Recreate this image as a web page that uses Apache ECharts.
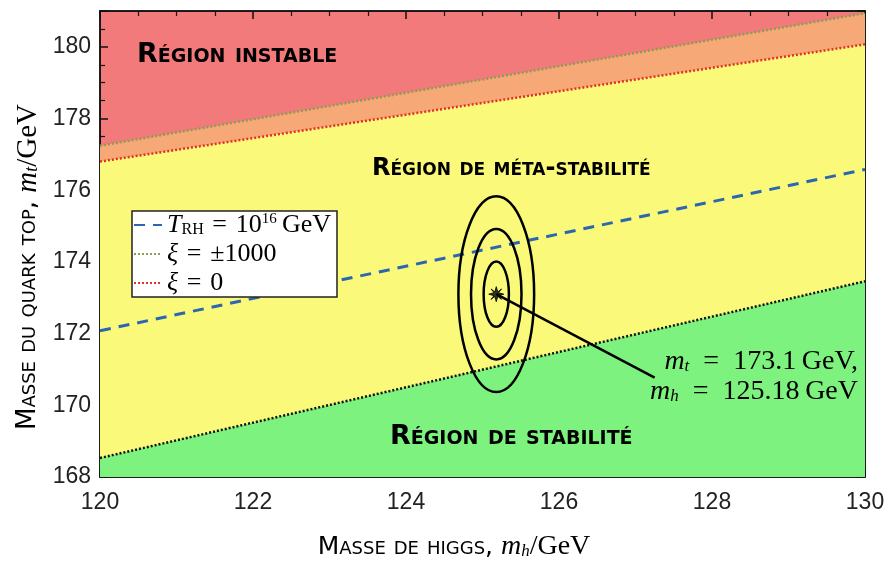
<!DOCTYPE html>
<html>
<head>
<meta charset="utf-8">
<script src="https://cdn.jsdelivr.net/npm/echarts@6/dist/echarts.min.js"></script>
<style>
html, body { margin: 0; padding: 0; background: #fff; }
#chart { width: 889px; height: 566px; }
</style>
</head>
<body>
<div id="chart"></div>
<script>
// axis ranges (GeV)
var higgsRange = [120, 130];
var topRange = [168, 181];
// boundary lines, value of m_t at m_h = 120 and m_h = 130
var stabilityBound = [168.53, 173.46];
var xiZeroBound = [176.8, 180.07];
var xiThousandBound = [177.24, 180.94];
var reheatLine = [172.08, 176.58];
// best fit point and 1/2/3 sigma half widths
var bestFit = [125.18, 173.1];
var sigmaHiggs = [0.165, 0.33, 0.495];
var sigmaTop = [0.91, 1.82, 2.73];
var pointerEnd = [127.25, 170.77];

var myChart = echarts.init(document.getElementById('chart'));

function ends(vals) {
    return [[higgsRange[0], vals[0]], [higgsRange[1], vals[1]]];
}

var serif = '"Liberation Serif", "DejaVu Serif", serif';
var sans = '"Liberation Sans", Arial, sans-serif';
var caps = '"DejaVu Sans", sans-serif';
var eq = '\u2002=\u2002';
var eqNarrow = '\u2004=\u2004';

function mathRich(size, capSize) {
    return {
        r: { fontFamily: serif, fontSize: size, color: '#000', lineHeight: 28 },
        i: { fontFamily: serif, fontStyle: 'italic', fontSize: size, color: '#000', lineHeight: 28 },
        sub: { fontFamily: serif, fontSize: Math.round(size * 0.6), color: '#000', padding: [9, 0, 0, 0] },
        isub: { fontFamily: serif, fontStyle: 'italic', fontSize: Math.round(size * 0.62), color: '#000', padding: [9, 0, 0, 0] },
        sup: { fontFamily: serif, fontSize: Math.round(size * 0.56), color: '#000', padding: [0, 0, 11, 0] },
        sc: { fontFamily: caps, fontWeight: 'small-caps', fontSize: capSize || 22, color: '#111', lineHeight: 28 }
    };
}

var legendText = {
    'T_RH': '{i|T}{sub|RH}{r|' + eqNarrow + '10}{sup|16}{r|\u2009GeV}',
    'xi1000': '{i|ξ}{r|' + eqNarrow + '±1000}',
    'xi0': '{i|ξ}{r|' + eqNarrow + '0}'
};

function regionLabel(text, x, y, size) {
    return {
        type: 'text', x: x, y: y, z: 50,
        style: {
            text: text,
            font: 'small-caps bold ' + size + 'px ' + caps,
            fill: '#000',
            align: 'left', textAlign: 'left',
            verticalAlign: 'middle', textVerticalAlign: 'middle'
        }
    };
}

function mathLabel(text, x, y, size, capSize, align, rotation) {
    return {
        type: 'text', x: x, y: y, z: 50, rotation: rotation || 0,
        style: {
            text: text, rich: mathRich(size, capSize),
            align: align, textAlign: align,
            verticalAlign: 'middle', textVerticalAlign: 'middle'
        }
    };
}

var axisCommon = {
    type: 'value',
    axisLine: { lineStyle: { color: '#111', width: 1.5 } },
    axisTick: { inside: true, length: 8, lineStyle: { color: '#111', width: 1.5 } },
    minorTick: { show: true, splitNumber: 4, length: 5, lineStyle: { color: '#111', width: 1.2 } },
    splitLine: { show: false }
};

var option = {
    animation: false,
    grid: {
        left: 100, right: 24, top: 11, bottom: 89,
        show: true,
        backgroundColor: '#f37a7a',
        borderColor: '#111',
        borderWidth: 1.5
    },
    legend: {
        orient: 'vertical',
        left: 132, top: 211,
        backgroundColor: '#fff',
        borderColor: '#222',
        borderWidth: 1.5,
        borderRadius: 0,
        padding: [1, 6, 1, 1],
        itemWidth: 28, itemHeight: 14, itemGap: 3,
        itemStyle: { opacity: 0 },
        data: ['T_RH', 'xi1000', 'xi0'],
        formatter: function (name) { return legendText[name]; },
        textStyle: { fontFamily: serif, fontSize: 26, color: '#000', rich: mathRich(26) }
    },
    xAxis: [
        echarts.util.merge({
            min: higgsRange[0], max: higgsRange[1], interval: 2,
            axisLabel: { margin: 14, fontFamily: sans, fontSize: 23, color: '#222' }
        }, axisCommon),
        echarts.util.merge({
            position: 'top', min: higgsRange[0], max: higgsRange[1], interval: 2,
            axisLabel: { show: false }
        }, axisCommon)
    ],
    yAxis: [
        echarts.util.merge({
            min: topRange[0], max: topRange[1], interval: 2,
            axisLabel: { margin: 9, fontFamily: sans, fontSize: 23, color: '#222', showMaxLabel: false }
        }, axisCommon),
        echarts.util.merge({
            position: 'right', min: topRange[0], max: topRange[1], interval: 2,
            axisLabel: { show: false }
        }, axisCommon)
    ],
    series: [
        // filled regions
        { type: 'line', name: 'orangeFill', data: ends(xiThousandBound), symbol: 'none', silent: true,
          lineStyle: { width: 0 }, areaStyle: { color: '#f6a877', opacity: 1, origin: 'start' } },
        { type: 'line', name: 'yellowFill', data: ends(xiZeroBound), symbol: 'none', silent: true,
          lineStyle: { width: 0 }, areaStyle: { color: '#fbf97a', opacity: 1, origin: 'start' } },
        { type: 'line', name: 'greenFill', data: ends(stabilityBound), symbol: 'none', silent: true,
          lineStyle: { width: 0 }, areaStyle: { color: '#7ef27e', opacity: 1, origin: 'start' } },
        // boundary lines
        { type: 'line', name: 'xi1000', data: ends(xiThousandBound), symbol: 'none', z: 3,
          itemStyle: { color: '#8d9c55' },
          lineStyle: { color: '#8d9c55', width: 2.5, type: [2, 2] } },
        { type: 'line', name: 'xi0', data: ends(xiZeroBound), symbol: 'none', z: 3,
          itemStyle: { color: '#e0302a' },
          lineStyle: { color: '#e0302a', width: 2.5, type: [2, 2] } },
        { type: 'line', name: 'stability', data: ends(stabilityBound), symbol: 'none', z: 3,
          lineStyle: { color: '#111', width: 2.5, type: [2, 2] } },
        { type: 'line', name: 'T_RH', data: ends(reheatLine), symbol: 'none', z: 3,
          itemStyle: { color: '#2c66b0' },
          lineStyle: { color: '#2c66b0', width: 3, type: [11, 8] } },
        // confidence ellipses
        {
            type: 'custom', name: 'ellipses', silent: true, z: 4,
            data: sigmaHiggs.map(function (s, i) { return [bestFit[0], bestFit[1], s, sigmaTop[i]]; }),
            encode: { x: 0, y: 1 },
            renderItem: function (params, api) {
                var c = api.coord([api.value(0), api.value(1)]);
                var sz = api.size([api.value(2), api.value(3)]);
                return {
                    type: 'ellipse',
                    shape: { cx: c[0], cy: c[1], rx: sz[0], ry: sz[1] },
                    style: { fill: 'none', stroke: '#000', lineWidth: 2.5 }
                };
            }
        },
        // pointer to the best fit
        { type: 'line', name: 'pointer', data: [bestFit, pointerEnd], symbol: 'none', z: 4, silent: true,
          lineStyle: { color: '#000', width: 2.5 } },
        { type: 'scatter', name: 'bestFit', data: [bestFit], z: 6, silent: true,
          symbol: 'path://M0,-10 L2,-3 L7,-7 L3,-2 L10,0 L3,2 L7,7 L2,3 L0,10 L-2,3 L-7,7 L-3,2 L-10,0 L-3,-2 L-7,-7 L-2,-3 Z',
          symbolSize: 15, itemStyle: { color: '#000', borderColor: '#000', borderWidth: 1 } }
    ],
    graphic: [
        regionLabel('Région instable', 137, 55, 27),
        regionLabel('Région de méta-stabilité', 372, 169, 24),
        regionLabel('Région de stabilité', 390, 437, 27),
        mathLabel('{i|m}{isub|t}{r|' + eq + '173.1\u2009GeV,}', 858, 362, 28, 22, 'right'),
        mathLabel('{i|m}{isub|h}{r|' + eq + '125.18\u2009GeV}', 858, 392, 28, 22, 'right'),
        mathLabel('{sc|Masse de higgs, }{i|m}{isub|h}{r|/GeV}', 454, 547, 28, 25, 'center'),
        mathLabel('{sc|Masse du quark top, }{i|m}{isub|t}{r|/GeV}', 28, 267, 29, 26, 'center', Math.PI / 2)
    ]
};

myChart.setOption(option);
</script>
</body>
</html>
